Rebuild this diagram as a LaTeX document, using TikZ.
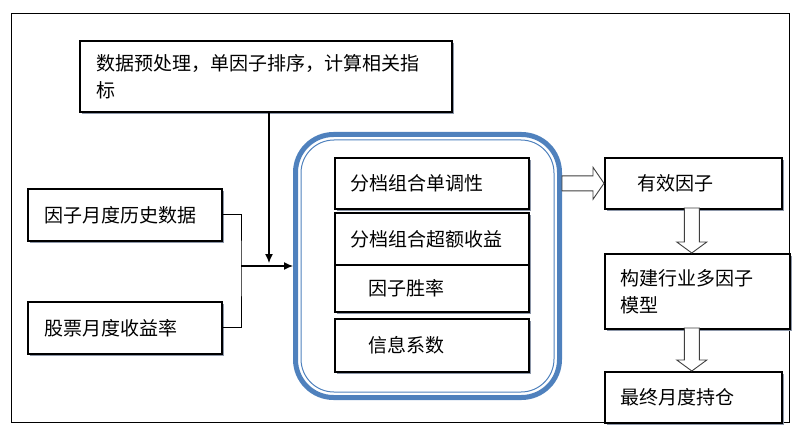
\documentclass[tikz,border=0pt]{standalone}
\usepackage{fontspec}
\setmainfont{Noto Sans CJK SC}
\usepackage{xcolor}
\usetikzlibrary{arrows.meta,positioning,shadows}
\definecolor{frameblue}{RGB}{79,129,189}
\definecolor{shadowgray}{RGB}{140,150,168}

\begin{document}
\begin{tikzpicture}[x=1pt, y=-1pt, >={Latex[length=9pt,width=8pt]}, font=\fontsize{19}{27}\selectfont]
        \tikzset{block/.style={draw, rectangle, line width=1.6pt, anchor=north west, align=left, fill=white, inner ysep=0pt,
            drop shadow={shadow xshift=2pt, shadow yshift=-2pt, fill=shadowgray, opacity=1}},
        pool/.style={draw=frameblue, rectangle, minimum width=264pt, minimum height=263pt, rounded corners=38pt, line width=5pt},
        hollow/.style={draw=black!75, line width=0.9pt, fill=white, line join=miter},
        wire/.style={draw, line width=0.8pt},
        feed/.style={draw, line width=1.2pt, ->},
        }
        \useasboundingbox (0,0) rectangle (807,436);
        \draw[line width=0.8pt] (11,13) rectangle (789,422); %% outer frame

        \node [block, minimum height=71pt, text width=338pt, inner xsep=17pt] (prep) at (79,40) {数据预处理，单因子排序，计算相关指\\标};
        \node [block, minimum height=52pt, text width=160pt, inner xsep=17pt] (fac) at (27,188) {因子月度历史数据};
        \node [block, minimum height=52pt, text width=160pt, inner xsep=17pt] (ret) at (27,301) {股票月度收益率};

        %% evaluation pool
        \node [pool] (pool) at (427.5,266) {};
        \node [pool, minimum width=253pt, minimum height=252pt, rounded corners=33pt, line width=1pt] (poolin) at (pool.center) {};
        \node [block, minimum height=51pt, text width=162pt, inner xsep=16pt] (mono) at (334,157) {分档组合单调性};
        \node [block, minimum height=52pt, text width=162pt, inner xsep=16pt, below=2.4pt of mono] (gain) {分档组合超额收益};
        \node [block, minimum height=47pt, text width=126pt, inner xsep=34pt, below=-1.6pt of gain] (rate) {因子胜率};
        \node [block, minimum height=53pt, text width=126pt, inner xsep=34pt, below=5.4pt of rate] (ic) {信息系数};

        \node [block, minimum height=51pt, text width=111pt, inner xsep=33pt] (eff) at (604,157) {有效因子};
        \node [block, minimum height=75pt, text width=153pt, inner xsep=16pt] (model) at (604,253) {构建行业多因子\\模型};
        \node [block, minimum height=51pt, text width=145pt, inner xsep=16pt] (final) at (604,371) {最终月度持仓};

        \coordinate (junc) at (241,266);  %% joint of the two inputs
        \coordinate (drop) at (269,263);  %% end of the preprocessing arrow

%% paths
        \path[wire] (fac.east) -| (junc) |- (ret.east);
        \path[feed] (junc) -- (pool.west);
        \path[feed] (prep.south -| drop) -- (drop);

        \draw[hollow] (eff.west) -- ++(-11,-16) -- ++(0,8.5) -- ++(-31,0) -- ++(0,15) -- ++(31,0) -- ++(0,8.5) -- cycle;
        \draw[hollow] ([xshift=-1.5pt]eff.south |- model.north) -- ++(-15,-11) -- ++(7.5,0) -- ++(0,-34) -- ++(15,0) -- ++(0,34) -- ++(7.5,0) -- cycle;
        \draw[hollow] ([xshift=-1.5pt]final.north) -- ++(-15,-11) -- ++(7.5,0) -- ++(0,-32) -- ++(15,0) -- ++(0,32) -- ++(7.5,0) -- cycle;
    \end{tikzpicture}
\end{document}
